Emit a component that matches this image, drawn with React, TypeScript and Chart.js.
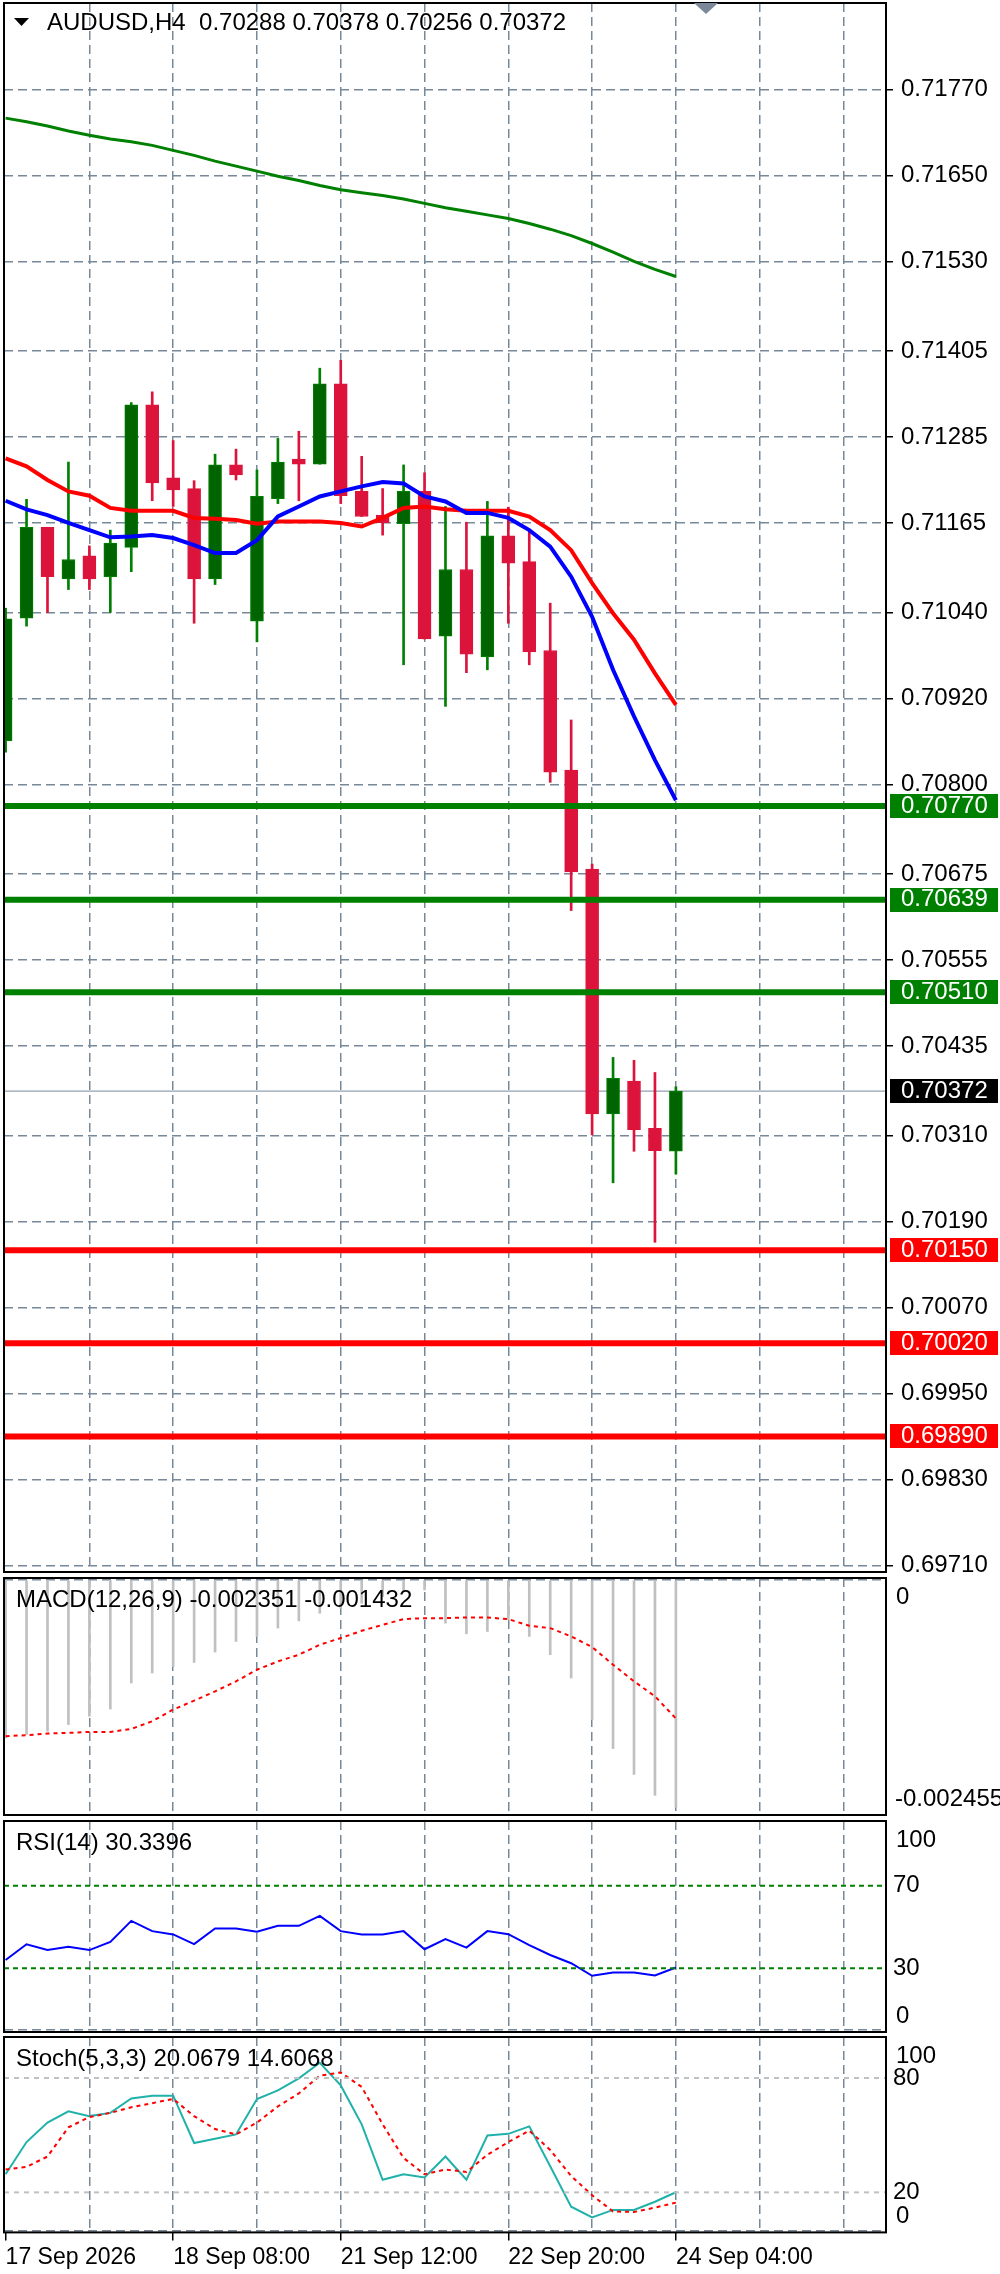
import React, { useEffect, useRef } from "react";
import { Chart, registerables } from "chart.js";

Chart.register(...registerables);

const FONT_FAMILY = "'Liberation Sans', Arial, sans-serif";
const GRID_COLOR = "#778899";
const GRID_DASH = [9, 5];

const symbolTitle = "AUDUSD,H4  0.70288 0.70378 0.70256 0.70372";
const macdTitle = "MACD(12,26,9) -0.002351 -0.001432";
const rsiTitle = "RSI(14) 30.3396";
const stochTitle = "Stoch(5,3,3) 20.0679 14.6068";

const opens = [0.70861, 0.71032, 0.71159, 0.71087, 0.71119, 0.7109, 0.71131, 0.7133, 0.71228, 0.71213, 0.71087, 0.71246, 0.71028, 0.71199, 0.71254, 0.71247, 0.71359, 0.71209, 0.71176, 0.71164, 0.71209, 0.71007, 0.711, 0.70978, 0.71147, 0.71111, 0.70987, 0.7082, 0.70682, 0.7034, 0.70386, 0.7032, 0.70288];
const highs = [0.71046, 0.71198, 0.71159, 0.7125, 0.71133, 0.71155, 0.71333, 0.71348, 0.7128, 0.71224, 0.71261, 0.71268, 0.71239, 0.71283, 0.71293, 0.71381, 0.71392, 0.71258, 0.71213, 0.71246, 0.71235, 0.71188, 0.71166, 0.71195, 0.71187, 0.71155, 0.71053, 0.7089, 0.70689, 0.70419, 0.70415, 0.70398, 0.70378];
const lows = [0.70845, 0.71021, 0.7104, 0.71072, 0.71072, 0.7104, 0.71097, 0.71196, 0.71188, 0.71025, 0.71079, 0.71225, 0.70999, 0.71192, 0.71196, 0.71247, 0.71192, 0.71174, 0.71148, 0.70967, 0.71003, 0.70909, 0.70956, 0.7096, 0.71025, 0.70967, 0.70803, 0.70624, 0.70311, 0.70244, 0.70288, 0.70161, 0.70256];
const closes = [0.71031, 0.71159, 0.7109, 0.71114, 0.71087, 0.71137, 0.7133, 0.71221, 0.71211, 0.71087, 0.71246, 0.71232, 0.71202, 0.7125, 0.71247, 0.71359, 0.71203, 0.71174, 0.71165, 0.71209, 0.71003, 0.711, 0.70982, 0.71147, 0.71109, 0.70985, 0.70817, 0.70678, 0.7034, 0.7039, 0.70318, 0.70289, 0.70372];

const maFast = [0.71196, 0.71184, 0.71176, 0.71165, 0.71155, 0.71145, 0.71146, 0.71148, 0.71144, 0.71134, 0.71123, 0.71123, 0.71141, 0.71174, 0.71188, 0.71202, 0.71209, 0.71216, 0.71222, 0.7122, 0.71202, 0.71195, 0.71179, 0.71179, 0.71172, 0.71155, 0.71132, 0.7109, 0.71034, 0.7096, 0.70895, 0.70834, 0.70778];
const maSlow = [0.71255, 0.71244, 0.71225, 0.71209, 0.71203, 0.71186, 0.71182, 0.71182, 0.71182, 0.71172, 0.71171, 0.71169, 0.71164, 0.71167, 0.71167, 0.71167, 0.71165, 0.7116, 0.71172, 0.71186, 0.71188, 0.71184, 0.71182, 0.71182, 0.71182, 0.71174, 0.71155, 0.71127, 0.71081, 0.71039, 0.71002, 0.70955, 0.70911];
const ma200 = [0.7173, 0.71725, 0.71719, 0.71712, 0.71706, 0.71701, 0.71697, 0.71692, 0.71685, 0.71678, 0.7167, 0.71663, 0.71656, 0.71649, 0.71643, 0.71636, 0.7163, 0.71626, 0.71622, 0.71617, 0.71611, 0.71605, 0.716, 0.71595, 0.7159, 0.71583, 0.71575, 0.71566, 0.71555, 0.71543, 0.7153, 0.71519, 0.71509];

const resistanceLevels = [0.7077, 0.70639, 0.7051];
const supportLevels = [0.7015, 0.7002, 0.6989];
const lastPrice = 0.70372;

const priceTicks = [0.7177, 0.7165, 0.7153, 0.71405, 0.71285, 0.71165, 0.7104, 0.7092, 0.708, 0.70675, 0.70555, 0.70435, 0.7031, 0.7019, 0.7007, 0.6995, 0.6983, 0.6971];

const macdHist = [-0.001632, -0.001598, -0.001564, -0.001495, -0.001409, -0.001334, -0.001065, -0.000962, -0.000894, -0.000853, -0.000746, -0.000636, -0.000584, -0.000498, -0.000423, -0.000344, -0.000292, -0.000241, -0.000172, -0.00012, -0.000103, -0.000447, -0.000557, -0.000533, -0.000412, -0.000584, -0.000773, -0.001014, -0.001444, -0.001743, -0.002011, -0.002227, -0.002351];
const macdSignal = [-0.001615, -0.001605, -0.001588, -0.001581, -0.001571, -0.001571, -0.00154, -0.001461, -0.00134, -0.001248, -0.001152, -0.001048, -0.000928, -0.000842, -0.000773, -0.00067, -0.000601, -0.000526, -0.000464, -0.000405, -0.000395, -0.000395, -0.000388, -0.000388, -0.000405, -0.000474, -0.000498, -0.000584, -0.000694, -0.000876, -0.001048, -0.001203, -0.001432];

const rsiValues = [34.0, 41.6, 38.8, 40.4, 38.8, 42.8, 53.0, 48.0, 46.4, 41.7, 49.3, 49.3, 47.7, 50.6, 50.6, 55.4, 48.0, 46.4, 46.4, 48.0, 39.2, 44.1, 40.0, 48.0, 46.5, 41.2, 36.4, 32.4, 26.3, 27.9, 27.9, 26.5, 30.34];
const rsiLevels = [70, 30];

const stochK = [29.5, 46.4, 56.6, 62.5, 60.0, 61.7, 69.3, 70.7, 70.7, 45.9, 48.1, 50.4, 69.0, 73.5, 79.8, 88.0, 76.1, 55.7, 26.6, 29.5, 27.8, 38.8, 26.6, 49.8, 50.7, 54.6, 33.7, 12.5, 6.9, 10.8, 10.8, 15.1, 20.07];
const stochD = [32.0, 33.4, 38.8, 54.1, 59.5, 61.7, 64.6, 66.8, 69.0, 60.0, 53.2, 50.4, 56.6, 65.1, 71.9, 81.2, 82.9, 75.3, 55.7, 38.0, 29.5, 32.0, 30.7, 39.7, 46.4, 52.4, 42.2, 28.6, 18.5, 10.0, 9.7, 12.0, 14.61];
const stochLevels = [80, 20];

const gridIndices = [0, 4, 8, 12, 16, 20, 24, 28, 32, 36, 40];
const timeTickIndices = [0, 8, 16, 24, 32];
const timeTickLabels = ["17 Sep 2026", "18 Sep 08:00", "21 Sep 12:00", "22 Sep 20:00", "24 Sep 04:00"];

const X_MIN = -0.076;
const X_MAX = 42.03;
const PRICE_MIN = 0.697008;
const PRICE_MAX = 0.718907;

const pts = (values: number[]) => values.map((v, i) => ({ x: i, y: v }));
const hline = (v: number) => [
  { x: X_MIN, y: v },
  { x: X_MAX, y: v },
];

function makeX(withLabels: boolean): any {
  return {
    type: "linear",
    min: X_MIN,
    max: X_MAX,
    offset: false,
    bounds: "data",
    afterBuildTicks: (s: any) => {
      s.ticks = gridIndices.map((v) => ({ value: v }));
    },
    grid: {
      offset: false,
      lineWidth: 1.5,
      color: (c: any) => (c.tick && c.tick.value === 0 ? "rgba(0,0,0,0)" : GRID_COLOR),
      drawTicks: withLabels,
      tickLength: 8,
      tickWidth: 1.5,
      tickColor: (c: any) => (c.tick && timeTickIndices.includes(c.tick.value) ? "#000" : "rgba(0,0,0,0)"),
    },
    border: { display: false, dash: GRID_DASH },
    ticks: {
      display: withLabels,
      autoSkip: false,
      maxRotation: 0,
      minRotation: 0,
      align: "start",
      padding: 3,
      color: "#000",
      font: { family: FONT_FAMILY, size: 23 },
      callback: (v: any) => {
        const k = timeTickIndices.indexOf(Number(v));
        return k >= 0 ? timeTickLabels[k] : "";
      },
    },
  };
}

function makeIndicatorY(min: number, max: number, gridValues: number[]): any {
  return {
    type: "linear",
    position: "right",
    min,
    max,
    bounds: "data",
    beginAtZero: false,
    afterBuildTicks: (s: any) => {
      s.ticks = gridValues.map((v) => ({ value: v }));
    },
    afterFit: (s: any) => {
      s.width = 114;
      s.paddingTop = 0;
      s.paddingBottom = 0;
    },
    grid: { color: GRID_COLOR, lineWidth: 1.5, drawTicks: false },
    border: { display: false, dash: GRID_DASH },
    ticks: { display: false },
  };
}

type AxisLabel = { text: string; x: number; value?: number; pos?: "top" | "bottom" };

function panelPlugin(title: string, labels: AxisLabel[]): any {
  return {
    id: "panelDeco",
    afterDraw(chart: any) {
      const { ctx, chartArea: a, scales } = chart;
      ctx.save();
      ctx.strokeStyle = "#000";
      ctx.lineWidth = 2;
      ctx.strokeRect(a.left, a.top, a.right - a.left, a.bottom - a.top);
      ctx.font = `24px ${FONT_FAMILY}`;
      ctx.fillStyle = "#000";
      ctx.textBaseline = "middle";
      ctx.textAlign = "left";
      ctx.fillText(title, 16, a.top + 22);
      for (const l of labels) {
        let y: number;
        if (l.pos === "top") y = a.top + 19;
        else if (l.pos === "bottom") y = a.bottom - 16;
        else y = scales.y.getPixelForValue(l.value as number);
        ctx.fillText(l.text, l.x, y);
      }
      ctx.restore();
    },
  };
}

const mainPlugin: any = {
  id: "mainDeco",
  afterDraw(chart: any) {
    const { ctx, chartArea: a, scales } = chart;
    ctx.save();
    ctx.strokeStyle = "#000";
    ctx.lineWidth = 2;
    ctx.strokeRect(a.left, a.top, a.right - a.left, a.bottom - a.top);
    // chart shift marker
    ctx.fillStyle = "#7a8899";
    ctx.beginPath();
    ctx.moveTo(694, a.top);
    ctx.lineTo(718, a.top);
    ctx.lineTo(706, a.top + 11);
    ctx.closePath();
    ctx.fill();
    // header
    ctx.fillStyle = "#000";
    ctx.beginPath();
    ctx.moveTo(14, 18);
    ctx.lineTo(29, 18);
    ctx.lineTo(21.5, 26);
    ctx.closePath();
    ctx.fill();
    ctx.font = `24px ${FONT_FAMILY}`;
    ctx.textBaseline = "middle";
    ctx.textAlign = "left";
    ctx.fillText(symbolTitle, 47, 23.5);
    // price boxes
    const boxes = [
      ...resistanceLevels.map((v) => ({ v, bg: "#008000" })),
      ...supportLevels.map((v) => ({ v, bg: "#FF0000" })),
      { v: lastPrice, bg: "#000000" },
    ];
    for (const b of boxes) {
      const y = scales.y.getPixelForValue(b.v);
      ctx.fillStyle = b.bg;
      ctx.fillRect(890, Math.round(y - 12), 108, 24);
      ctx.fillStyle = "#ffffff";
      ctx.fillText(b.v.toFixed(5), 901, y);
    }
    ctx.restore();
  },
};

function useChart(ref: React.RefObject<HTMLCanvasElement | null>, build: () => any) {
  useEffect(() => {
    if (!ref.current) return;
    const chart = new Chart(ref.current, build());
    return () => chart.destroy();
  }, []);
}

function Panel({ top, height, build }: { top: number; height: number; build: () => any }) {
  const ref = useRef<HTMLCanvasElement>(null);
  useChart(ref, build);
  return (
    <div style={{ position: "absolute", left: 0, top, width: 1000, height }}>
      <canvas ref={ref} width={1000} height={height} style={{ display: "block", width: 1000, height }} />
    </div>
  );
}

const baseOptions = (padding: any) => ({
  responsive: false,
  maintainAspectRatio: false,
  animation: false,
  devicePixelRatio: 1,
  layout: { padding },
  plugins: { legend: { display: false }, tooltip: { enabled: false }, title: { display: false } },
  events: [],
});

function buildMain(): any {
  const bull = closes.map((c, i) => c >= opens[i]);
  const levelSet = [
    ...resistanceLevels.map((v) => ({ v, c: "#008000" })),
    ...supportLevels.map((v) => ({ v, c: "#FF0000" })),
  ];
  return {
    type: "bar",
    data: {
      datasets: [
        ...levelSet.map((l) => ({
          type: "line",
          data: hline(l.v),
          borderColor: l.c,
          borderWidth: 6,
          pointRadius: 0,
          order: 0,
        })),
        {
          type: "line",
          data: pts(maFast),
          borderColor: "#0000FF",
          borderWidth: 4,
          pointRadius: 0,
          tension: 0,
          order: 1,
        },
        {
          type: "line",
          data: pts(maSlow),
          borderColor: "#FF0000",
          borderWidth: 4,
          pointRadius: 0,
          tension: 0,
          order: 1,
        },
        {
          type: "line",
          data: pts(ma200),
          borderColor: "#008000",
          borderWidth: 3,
          pointRadius: 0,
          tension: 0,
          order: 1,
        },
        {
          type: "bar",
          data: closes.map((c, i) => ({ x: i, y: [opens[i], c] })),
          backgroundColor: bull.map((b) => (b ? "#006400" : "#DC143C")),
          borderColor: bull.map((b) => (b ? "#008000" : "#DC143C")),
          borderWidth: 1,
          borderSkipped: false,
          barThickness: 13,
          grouped: false,
          clip: 0,
          order: 2,
        },
        {
          type: "bar",
          data: highs.map((h, i) => ({ x: i, y: [lows[i], h] })),
          backgroundColor: bull.map((b) => (b ? "#008000" : "#DC143C")),
          borderWidth: 0,
          barThickness: 2,
          grouped: false,
          clip: 0,
          order: 3,
        },
        {
          type: "line",
          data: hline(lastPrice),
          borderColor: "#778899",
          borderWidth: 1,
          pointRadius: 0,
          order: 4,
        },
      ],
    },
    options: {
      ...baseOptions({ top: 3, left: 4, right: 0, bottom: 3 }),
      scales: {
        x: makeX(false),
        y: {
          type: "linear",
          position: "right",
          min: PRICE_MIN,
          max: PRICE_MAX,
          bounds: "data",
          beginAtZero: false,
          afterBuildTicks: (s: any) => {
            s.ticks = priceTicks.map((v) => ({ value: v }));
          },
          afterFit: (s: any) => {
            s.width = 114;
            s.paddingTop = 0;
            s.paddingBottom = 0;
          },
          grid: { color: GRID_COLOR, lineWidth: 1.5, drawTicks: true, tickLength: 7, tickWidth: 1.5, tickColor: "#000" },
          border: { display: true, color: "#000", width: 2, dash: GRID_DASH },
          ticks: {
            autoSkip: false,
            padding: 8,
            color: "#000",
            font: { family: FONT_FAMILY, size: 24 },
            callback: (v: any) => Number(v).toFixed(5),
          },
        },
      },
    },
    plugins: [mainPlugin],
  };
}

function buildMacd(): any {
  return {
    type: "bar",
    data: {
      datasets: [
        {
          type: "line",
          data: pts(macdSignal),
          borderColor: "#FF0000",
          borderWidth: 2,
          borderDash: [4, 4],
          pointRadius: 0,
          tension: 0,
          order: 0,
        },
        {
          type: "bar",
          data: pts(macdHist),
          backgroundColor: "#c0c0c0",
          borderWidth: 0,
          barThickness: 2,
          grouped: false,
          clip: 0,
          order: 1,
        },
      ],
    },
    options: {
      ...baseOptions({ top: 3, left: 4, right: 0, bottom: 5 }),
      scales: { x: makeX(false), y: makeIndicatorY(-0.00243, 0.00002, [0]) },
    },
    plugins: [
      panelPlugin(macdTitle, [
        { text: "0", x: 896, pos: "top" },
        { text: "-0.002455", x: 895, pos: "bottom" },
      ]),
    ],
  };
}

function buildRsi(): any {
  return {
    type: "line",
    data: {
      datasets: [
        ...rsiLevels.map((v) => ({
          data: hline(v),
          borderColor: "#008000",
          borderWidth: 2,
          borderDash: [5, 4],
          pointRadius: 0,
        })),
        {
          data: pts(rsiValues),
          borderColor: "#0000FF",
          borderWidth: 2,
          pointRadius: 0,
          tension: 0,
        },
      ],
    },
    options: {
      ...baseOptions({ top: 3, left: 4, right: 0, bottom: 3 }),
      scales: { x: makeX(false), y: makeIndicatorY(-1, 101.5, [0]) },
    },
    plugins: [
      panelPlugin(rsiTitle, [
        { text: "100", x: 896, pos: "top" },
        { text: "70", x: 893, value: 70 },
        { text: "30", x: 893, value: 30 },
        { text: "0", x: 896, pos: "bottom" },
      ]),
    ],
  };
}

function buildStoch(): any {
  return {
    type: "line",
    data: {
      datasets: [
        ...stochLevels.map((v) => ({
          data: hline(v),
          borderColor: "#c0c0c0",
          borderWidth: 2,
          borderDash: [5, 5],
          pointRadius: 0,
        })),
        {
          data: pts(stochD),
          borderColor: "#FF0000",
          borderWidth: 2,
          borderDash: [4, 4],
          pointRadius: 0,
          tension: 0,
        },
        {
          data: pts(stochK),
          borderColor: "#20B2AA",
          borderWidth: 2,
          pointRadius: 0,
          tension: 0,
        },
      ],
    },
    options: {
      ...baseOptions({ top: 3, left: 4, right: 0, bottom: 0 }),
      scales: { x: makeX(true), y: makeIndicatorY(-1, 101.5, [0]) },
    },
    plugins: [
      panelPlugin(stochTitle, [
        { text: "100", x: 896, pos: "top" },
        { text: "80", x: 893, value: 80 },
        { text: "20", x: 893, value: 20 },
        { text: "0", x: 896, pos: "bottom" },
      ]),
    ],
  };
}

export default function App() {
  useEffect(() => {
    document.body.style.margin = "0";
  }, []);
  return (
    <div style={{ position: "absolute", left: 0, top: 0, width: 1000, height: 2274, background: "#fff", overflow: "hidden" }}>
      <Panel top={0} height={1575} build={buildMain} />
      <Panel top={1575} height={245} build={buildMacd} />
      <Panel top={1818} height={217} build={buildRsi} />
      <Panel top={2034} height={240} build={buildStoch} />
    </div>
  );
}
